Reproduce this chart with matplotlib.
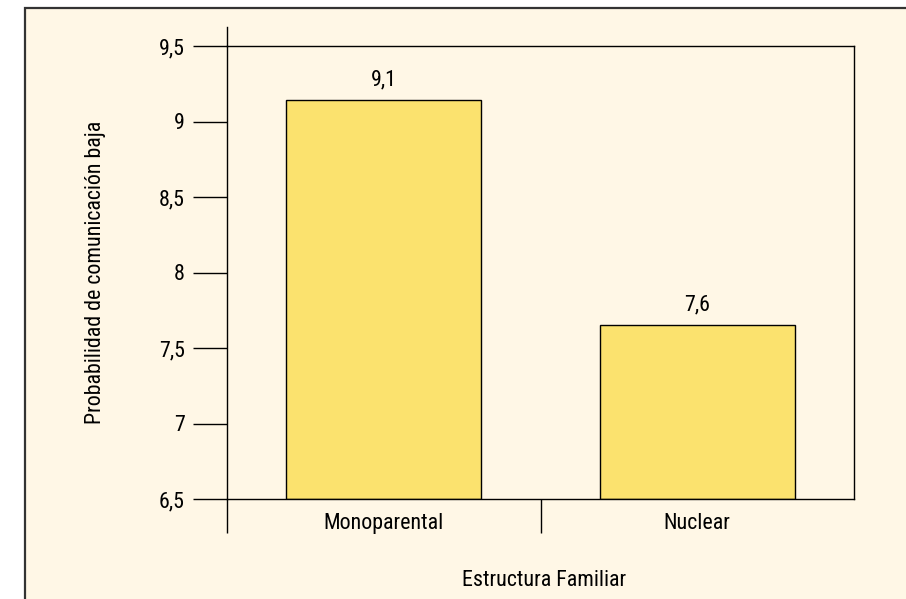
import matplotlib
matplotlib.use('Agg')
import matplotlib.pyplot as plt
from matplotlib.patches import Rectangle

plt.rcParams['font.family'] = ['Roboto Condensed', 'DejaVu Sans']

# Data
categorias = ['Monoparental', 'Nuclear']
valores = [9.14, 7.65]
etiquetas = ['9,1', '7,6']
yticks = [6.5, 7, 7.5, 8, 8.5, 9, 9.5]
ytick_labels = ['6,5', '7', '7,5', '8', '8,5', '9', '9,5']

crema = '#FFF7E6'
amarillo = '#FBE26E'
fs = 15.8

fig = plt.figure(figsize=(9.06, 5.99), dpi=100)
fig.patch.set_facecolor('white')
# cream panel with frame
fig.patches.append(Rectangle((25 / 906, -0.05), 1.0, 1 - 8 / 599 + 0.05,
                             transform=fig.transFigure, facecolor=crema,
                             edgecolor='#333333', linewidth=1.6, zorder=-5))

ax = fig.add_axes([227 / 906, 1 - 499 / 599, (854 - 227) / 906, (499 - 46) / 599])
ax.set_facecolor(crema)

x = list(range(len(categorias)))
ax.bar(x, [v - 6.5 for v in valores], bottom=6.5, width=0.623, color=amarillo,
       edgecolor='black', linewidth=1.0, zorder=2)
for xi, v, lab in zip(x, valores, etiquetas):
    ax.text(xi, v + 0.065, lab, ha='center', va='bottom', fontsize=fs)

ax.set_xlim(-0.5, 1.5)
ax.set_ylim(6.5, 9.5)
ax.set_yticks(yticks)
ax.set_yticklabels(ytick_labels, fontsize=fs)
ax.tick_params(axis='y', length=24.5, width=1.0, color='black', pad=6)

ax.set_xticks(x)
ax.set_xticklabels(categorias, fontsize=fs)
ax.tick_params(axis='x', which='major', length=0, pad=10)
ax.set_xticks([-0.5, 0.5], minor=True)
ax.tick_params(axis='x', which='minor', length=24.5, width=1.0, color='black')

for s in ax.spines.values():
    s.set_linewidth(1.0)
    s.set_color('black')

# left axis line extends above the plot frame
ax.plot([0, 0], [1, 1.042], transform=ax.transAxes, color='black', lw=1.0, clip_on=False)

ax.yaxis.set_label_coords(-121 / 627, 0.5)
ax.set_ylabel('Probabilidad de comunicación baja', fontsize=fs)
fig.text(544 / 906, 1 - 580 / 599, 'Estructura Familiar', ha='center', va='center', fontsize=fs)

plt.savefig('out.png', dpi=100)
